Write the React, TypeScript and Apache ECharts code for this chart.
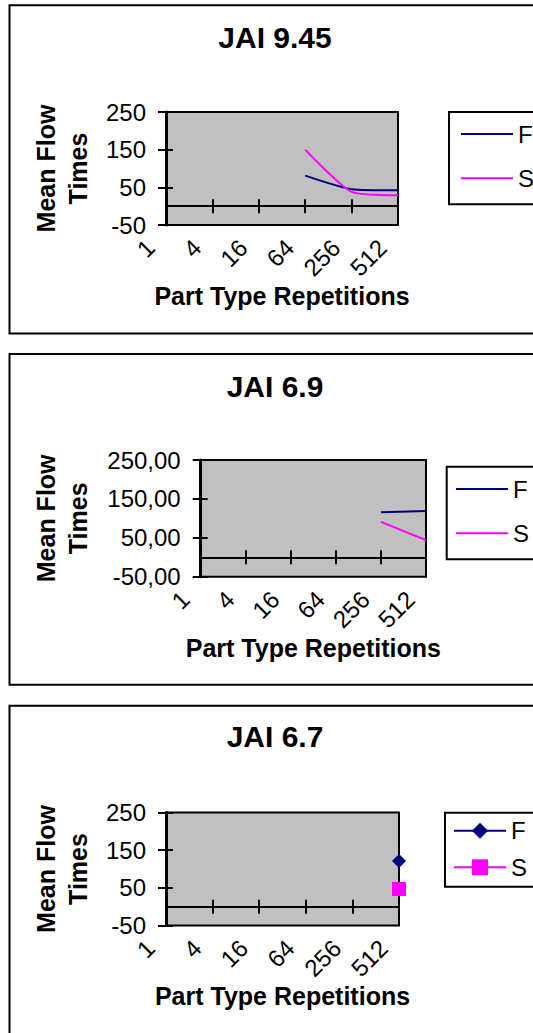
import React, { useEffect, useRef } from 'react';
import * as echarts from 'echarts';

// Shared category axis (part type repetitions) and value-axis range
const categories = ['1', '4', '16', '64', '256', '512'];
const yMin = -50;
const yMax = 250;
const yInterval = 100;

// JAI 9.45
const jai945Title = 'JAI 9.45';
const jai945F = [null, null, null, 81, 45, 42];
const jai945S = [null, null, null, 150, 38, 29];

// JAI 6.9
const jai69Title = 'JAI 6.9';
const jai69F = [null, null, null, null, 116, 119];
const jai69S = [null, null, null, null, 91, 44];

// JAI 6.7
const jai67Title = 'JAI 6.7';
const jai67F = [null, null, null, null, null, 121];
const jai67S = [null, null, null, null, null, 47];

const xTitle = 'Part Type Repetitions';
const yTitle = 'Mean Flow\nTimes';

const FONT = '"Liberation Sans", Arial, Helvetica, sans-serif';
const NAVY = '#000080';
const MAGENTA = '#ff00ff';
const BLACK = '#000000';

type Panel = {
  title: string;
  f: (number | null)[];
  s: (number | null)[];
  smooth: number | boolean;
  markers: boolean;
  decimals: number;
  frame: { y: number; h: number };
  titleY: number;
  grid: { left: number; top: number; width: number; height: number };
  yNameGap: number;
  legend: {
    left: number;
    top: number;
    itemHeight: number;
    itemGap: number;
    padding: number[];
  };
};

const panels: Panel[] = [
  {
    title: jai945Title,
    f: jai945F,
    s: jai945S,
    smooth: 0.2,
    markers: false,
    decimals: 0,
    frame: { y: 5.3, h: 328.2 },
    titleY: 37,
    grid: { left: 166, top: 112, width: 232, height: 113 },
    yNameGap: 72,
    legend: { left: 449, top: 112, itemHeight: 24, itemGap: 20.3, padding: [10, 60, 14, 11] },
  },
  {
    title: jai69Title,
    f: jai69F,
    s: jai69S,
    smooth: false,
    markers: false,
    decimals: 2,
    frame: { y: 354, h: 330.7 },
    titleY: 386.7,
    grid: { left: 200.7, top: 460, width: 225.3, height: 116.7 },
    yNameGap: 106.5,
    legend: { left: 446.7, top: 466.7, itemHeight: 24, itemGap: 20.3, padding: [10.3, 60, 14, 8.3] },
  },
  {
    title: jai67Title,
    f: jai67F,
    s: jai67S,
    smooth: false,
    markers: true,
    decimals: 0,
    frame: { y: 705.7, h: 330 },
    titleY: 736.7,
    grid: { left: 166, top: 812.5, width: 233, height: 113 },
    yNameGap: 72,
    legend: { left: 445, top: 812.7, itemHeight: 20, itemGap: 12.6, padding: [6, 60, 7.4, 8] },
  },
];

function buildOption() {
  const tickLine = { color: BLACK, width: 2 };

  const titles = panels.map((p) => ({
    text: p.title,
    left: 275,
    top: p.titleY,
    textAlign: 'center',
    textVerticalAlign: 'middle',
    padding: 0,
    textStyle: { fontSize: 30, fontWeight: 'bold', color: BLACK, fontFamily: FONT },
  }));

  const grids = panels.map((p) => ({
    ...p.grid,
    show: true,
    backgroundColor: '#c0c0c0',
    borderColor: BLACK,
    borderWidth: 2,
    containLabel: false,
    outerBoundsMode: 'none',
  }));

  const yAxes: any[] = [];
  const xAxes: any[] = [];
  const series: any[] = [];
  const legends: any[] = [];

  panels.forEach((p, i) => {
    const fmt = (v: number) => (p.decimals ? v.toFixed(p.decimals).replace('.', ',') : String(v));
    // main value axis: thick line, outward ticks, labels, rotated title
    yAxes.push({
      type: 'value',
      gridIndex: i,
      position: 'left',
      min: yMin,
      max: yMax,
      interval: yInterval,
      axisLine: { show: true, onZero: false, lineStyle: { color: BLACK, width: 3 } },
      axisTick: { show: true, length: 8, lineStyle: tickLine },
      axisLabel: { margin: 20, fontSize: 24, color: BLACK, fontFamily: FONT, formatter: fmt },
      splitLine: { show: false },
      name: yTitle,
      nameLocation: 'middle',
      nameRotate: 90,
      nameGap: p.yNameGap,
      nameTextStyle: { fontSize: 25, fontWeight: 'bold', color: BLACK, fontFamily: FONT, lineHeight: 32 },
    });
    // companion axis: inner half of the crossing ticks
    yAxes.push({
      type: 'value',
      gridIndex: i,
      position: 'left',
      min: yMin,
      max: yMax,
      interval: yInterval,
      axisLine: { show: false, onZero: false },
      axisTick: { show: true, inside: true, length: 7, lineStyle: tickLine },
      axisLabel: { show: false },
      splitLine: { show: false },
    });

    const yIdx = 2 * i;
    // category axis crossing at zero; labels and title stay at the plot bottom
    xAxes.push({
      type: 'category',
      gridIndex: i,
      data: categories,
      boundaryGap: false,
      position: 'bottom',
      axisLine: { show: true, onZero: true, onZeroAxisIndex: yIdx, lineStyle: { color: BLACK, width: 2 } },
      axisTick: { show: true, length: 7, interval: 0, lineStyle: tickLine },
      axisLabel: {
        interval: 0,
        rotate: 45,
        margin: 3,
        padding: [0, 22, 0, 0],
        fontSize: 24,
        color: BLACK,
        fontFamily: FONT,
      },
      splitLine: { show: false },
      name: xTitle,
      nameLocation: 'middle',
      nameGap: 54,
      nameTextStyle: { fontSize: 25, fontWeight: 'bold', color: BLACK, fontFamily: FONT },
    });
    // upper half of the crossing ticks on the zero line
    xAxes.push({
      type: 'category',
      gridIndex: i,
      data: categories,
      boundaryGap: false,
      position: 'top',
      axisLine: { show: true, onZero: true, onZeroAxisIndex: yIdx, lineStyle: { color: BLACK, width: 2 } },
      axisTick: { show: true, length: 7, interval: 0, lineStyle: tickLine },
      axisLabel: { show: false },
      splitLine: { show: false },
    });

    const fName = `F|${p.title}`;
    const sName = `S|${p.title}`;
    series.push({
      type: 'line',
      name: fName,
      xAxisIndex: 2 * i,
      yAxisIndex: yIdx,
      data: p.f,
      smooth: p.smooth,
      symbol: p.markers ? 'diamond' : 'none',
      symbolSize: 14,
      showSymbol: p.markers,
      color: NAVY,
      lineStyle: { color: NAVY, width: 2 },
      itemStyle: { color: NAVY },
      z: 3,
    });
    series.push({
      type: 'line',
      name: sName,
      xAxisIndex: 2 * i,
      yAxisIndex: yIdx,
      data: p.s,
      smooth: p.smooth,
      symbol: p.markers ? 'rect' : 'none',
      symbolSize: 14,
      showSymbol: p.markers,
      color: MAGENTA,
      lineStyle: { color: MAGENTA, width: 2 },
      itemStyle: { color: MAGENTA },
      z: 3,
    });

    const iconStyle = (c: string) => (p.markers ? { color: c, borderWidth: 0, opacity: 1 } : { opacity: 0 });
    legends.push({
      left: p.legend.left,
      top: p.legend.top,
      orient: 'vertical',
      data: [
        { name: fName, itemStyle: iconStyle(NAVY), lineStyle: { color: NAVY, width: 2 } },
        { name: sName, itemStyle: iconStyle(MAGENTA), lineStyle: { color: MAGENTA, width: 2 } },
      ],
      formatter: (n: string) => n.split('|')[0],
      selectedMode: false,
      itemWidth: 52,
      itemHeight: p.legend.itemHeight,
      itemGap: p.legend.itemGap,
      padding: p.legend.padding,
      borderColor: BLACK,
      borderWidth: 2,
      borderRadius: 0,
      backgroundColor: '#ffffff',
      textStyle: { fontSize: 24, color: BLACK, fontFamily: FONT },
    });
  });

  const frames = panels.map((p) => ({
    type: 'rect',
    shape: { x: 9.5, y: p.frame.y, width: 600, height: p.frame.h },
    style: { fill: 'none', stroke: BLACK, lineWidth: 2 },
    silent: true,
    z: 0,
  }));

  return {
    animation: false,
    backgroundColor: '#ffffff',
    textStyle: { fontFamily: FONT },
    title: titles,
    grid: grids,
    xAxis: xAxes,
    yAxis: yAxes,
    legend: legends,
    series,
    graphic: frames,
    tooltip: { show: false },
  };
}

export default function App() {
  const ref = useRef<HTMLDivElement>(null);
  useEffect(() => {
    const chart = echarts.init(ref.current as HTMLDivElement, null, { renderer: 'svg' });
    chart.setOption(buildOption() as any);
    return () => chart.dispose();
  }, []);
  return (
    <div
      ref={ref}
      style={{ position: 'absolute', left: 0, top: 0, width: 533, height: 1033, background: '#ffffff' }}
    />
  );
}
